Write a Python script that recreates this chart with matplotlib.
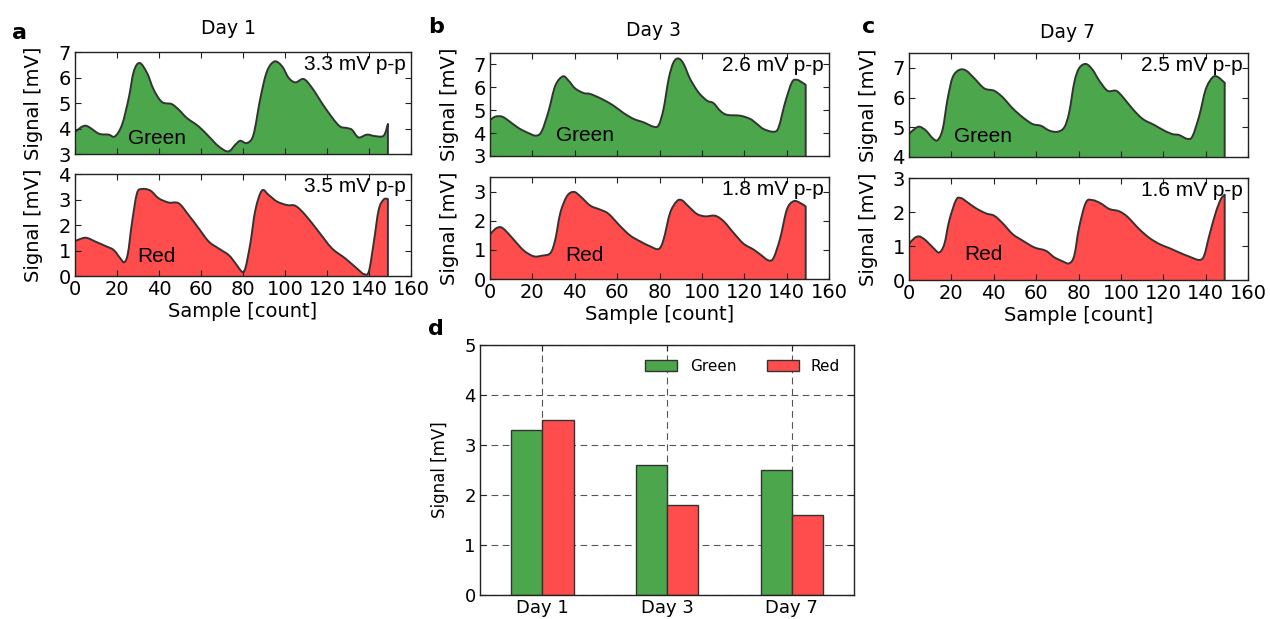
import matplotlib
matplotlib.use("Agg")
import matplotlib.pyplot as plt
from matplotlib.path import Path
from matplotlib.patches import PathPatch
import numpy as np

# ---------------- data ----------------
# Day 1
d1_green_x = [0, 5, 11.3, 16, 19, 22.4, 25.6, 28, 30.8, 34.3, 37.5, 41.4, 46, 49.4, 53.3, 58.9, 63.7, 68.4, 73,
              76.4, 78.7, 81.9, 85, 88.3, 91.4, 95, 98.6, 101.8, 105, 108.9, 112.9, 119.2, 125.6, 129.5, 131.9,
              135, 139, 143, 147, 149]
d1_green_y = [3.86, 4.11, 3.80, 3.76, 3.69, 4.15, 5.20, 6.24, 6.57, 6.18, 5.52, 5.04, 4.96, 4.74, 4.41, 4.08, 3.69,
              3.30, 3.10, 3.37, 3.52, 3.43, 3.76, 5.20, 6.24, 6.63, 6.44, 5.98, 5.81, 5.94, 5.59, 4.80, 4.12, 4.02,
              3.95, 3.65, 3.76, 3.70, 3.72, 4.18]
d1_red_x = [0, 5, 9.7, 14.4, 18.4, 21.6, 23.5, 25.2, 27.1, 29.5, 31.9, 35.9, 39.8, 44.6, 49.4, 54.1, 58.9, 63.7,
            68.4, 73.2, 76.4, 79.5, 81.1, 83.5, 85.9, 89, 92.2, 96.2, 101, 105, 109.7, 116, 122.4, 128.7, 135,
            137.5, 139.9, 142.2, 144.6, 147, 149]
d1_red_y = [1.37, 1.50, 1.35, 1.18, 1.02, 0.69, 0.54, 0.89, 2.07, 3.24, 3.41, 3.35, 3.05, 2.88, 2.85, 2.39, 1.87,
            1.35, 1.08, 0.82, 0.50, 0.17, 0.30, 1.28, 2.59, 3.35, 3.18, 2.92, 2.78, 2.75, 2.39, 1.74, 1.08, 0.69,
            0.24, 0.08, 0.17, 1.28, 2.59, 3.00, 3.02]
# Day 3
d3_green_x = [0, 2.5, 5.7, 8.8, 13.5, 18.2, 21.9, 24.5, 27.7, 30.8, 34.4, 37.1, 40.2, 44.2, 47.3, 52.8, 58.3, 63,
              67.8, 72.5, 77.2, 79.6, 81.9, 84.3, 86.6, 89, 91.4, 94.5, 98.4, 102.4, 105.5, 108.6, 111.8, 118.1,
              122.8, 126, 129.1, 133.8, 136.2, 139.3, 142.5, 144.8, 147.2, 149]
d3_green_y = [4.57, 4.72, 4.72, 4.54, 4.22, 4.00, 3.89, 4.10, 4.98, 6.07, 6.48, 6.29, 5.95, 5.75, 5.71, 5.49, 5.20,
              4.88, 4.62, 4.47, 4.28, 4.35, 5.05, 6.36, 7.09, 7.26, 7.02, 6.36, 5.78, 5.42, 5.31, 4.98, 4.80, 4.76,
              4.62, 4.40, 4.18, 4.06, 4.25, 5.34, 6.22, 6.33, 6.22, 6.11]
d3_red_x = [0, 2.5, 4.9, 7.2, 11.2, 15.9, 20.6, 24.5, 28.5, 30.8, 33.2, 36.3, 39.5, 42.6, 47.3, 52, 55.9, 61.5,
            66.2, 70.9, 75.6, 79.6, 81.9, 85, 88.2, 90.6, 93.7, 97.7, 101.6, 106.3, 110.3, 115, 119.7, 124.4,
            128.3, 131.4, 133.8, 137, 140.1, 143.3, 146.4, 149]
d3_red_y = [1.52, 1.72, 1.78, 1.67, 1.35, 0.98, 0.78, 0.80, 0.89, 1.35, 2.27, 2.84, 2.99, 2.84, 2.52, 2.38, 2.24,
            1.81, 1.49, 1.29, 1.12, 1.03, 1.35, 2.27, 2.67, 2.70, 2.49, 2.23, 2.15, 2.17, 1.98, 1.58, 1.21, 1.01,
            0.80, 0.64, 0.72, 1.41, 2.38, 2.67, 2.61, 2.49]
# Day 7
d7_green_x = [0, 2.5, 4.9, 8, 11.2, 13.5, 15.9, 18.2, 20.6, 23.7, 26.9, 30.8, 35.5, 40.2, 44.2, 48.9, 53.6, 58.3,
              62.3, 66.2, 70.1, 73.3, 75.6, 78, 80.3, 83.5, 86.6, 89.8, 93.7, 97.7, 100.8, 105.5, 110.3, 115.7,
              120.4, 124.4, 127.5, 131.4, 133.8, 137, 140.1, 143.3, 145.6, 148.8, 149]
d7_green_y = [4.77, 4.94, 5.02, 4.89, 4.63, 4.57, 4.94, 5.95, 6.68, 6.93, 6.91, 6.65, 6.31, 6.23, 6.01, 5.64, 5.34,
              5.11, 5.05, 4.89, 4.85, 5.00, 5.50, 6.51, 6.99, 7.13, 6.94, 6.57, 6.23, 6.23, 6.03, 5.62, 5.28, 5.08,
              4.89, 4.77, 4.74, 4.61, 4.70, 5.39, 6.29, 6.68, 6.70, 6.51, 6.48]
d7_red_x = [0, 2.5, 4.9, 8, 12, 14.3, 16.7, 19, 22.2, 24.5, 27.7, 31.6, 36.3, 40.2, 44.2, 48.9, 53.6, 59.1, 64.6,
            68.5, 72.5, 75.6, 78, 80.3, 83.5, 86.6, 90.6, 94.5, 99.2, 103.1, 108.6, 113.4, 118.1, 122.8, 127.5,
            132.2, 137, 139.3, 141.7, 144.8, 147.2, 149]
d7_red_y = [1.06, 1.23, 1.28, 1.16, 0.91, 0.81, 1.06, 1.75, 2.35, 2.41, 2.28, 2.11, 1.96, 1.89, 1.67, 1.35, 1.16,
            0.96, 0.86, 0.67, 0.55, 0.49, 0.72, 1.55, 2.28, 2.35, 2.25, 2.09, 2.02, 1.86, 1.50, 1.24, 1.06, 0.94,
            0.81, 0.69, 0.59, 0.72, 1.30, 1.99, 2.38, 2.51]

days = ["Day 1", "Day 3", "Day 7"]
pp_green = [3.3, 2.6, 2.5]
pp_red = [3.5, 1.8, 1.6]
green_ylims = [(3, 7), (3, 7.5), (4, 7.5)]
red_ylims = [(0, 4), (0, 3.5), (0, 3)]
green_yticks = [[3, 4, 5, 6, 7], [3, 4, 5, 6, 7], [4, 5, 6, 7]]
red_yticks = [[0, 1, 2, 3, 4], [0, 1, 2, 3], [0, 1, 2, 3]]
xticks = [0, 20, 40, 60, 80, 100, 120, 140, 160]

# ---------------- style ----------------
GREEN = "#4ca64c"
RED = "#ff4c4c"
LINE = "#333333"
W, H = 1270, 619

plt.rcParams["font.family"] = ["DejaVu Sans"]
fig = plt.figure(figsize=(W / 100, H / 100), dpi=100)


def frac(left, top, right, bottom):
    return [left / W, 1 - bottom / H, (right - left) / W, (bottom - top) / H]


def style_ax(ax, size=14):
    ax.tick_params(direction="in", top=True, right=True, length=4, width=0.8,
                   labelsize=size, pad=3, colors="#222222", labelcolor="black")
    for s in ax.spines.values():
        s.set_color("#222222")
        s.set_linewidth(1.0)


def smooth_trace(ax, xs, ys, base, color):
    """Draw the trace as a smooth Bezier path (Catmull-Rom through the read points)."""
    pts = np.column_stack([xs, ys]).astype(float)
    n = len(pts)
    verts = [tuple(pts[0])]
    codes = [Path.MOVETO]
    for i in range(n - 1):
        p0 = pts[max(i - 1, 0)]
        p1 = pts[i]
        p2 = pts[i + 1]
        p3 = pts[min(i + 2, n - 1)]
        c1 = p1 + (p2 - p0) / 6.0
        c2 = p2 - (p3 - p1) / 6.0
        verts += [tuple(c1), tuple(c2), tuple(p2)]
        codes += [Path.CURVE4] * 3
    # filled area
    fverts = verts + [(pts[-1, 0], base), (pts[0, 0], base), verts[0]]
    fcodes = codes + [Path.LINETO, Path.LINETO, Path.CLOSEPOLY]
    ax.add_patch(PathPatch(Path(fverts, fcodes), facecolor=color, edgecolor="none",
                           transform=ax.transData, zorder=1))
    # outline (curve + vertical drop at the end)
    lverts = verts + [(pts[-1, 0], base)]
    lcodes = codes + [Path.LINETO]
    ax.add_patch(PathPatch(Path(lverts, lcodes), facecolor="none", edgecolor=LINE,
                           linewidth=1.4, joinstyle="round", transform=ax.transData, zorder=2))


green_x = [d1_green_x, d3_green_x, d7_green_x]
green_y = [d1_green_y, d3_green_y, d7_green_y]
red_x = [d1_red_x, d3_red_x, d7_red_x]
red_y = [d1_red_y, d3_red_y, d7_red_y]

top_boxes = [(75, 52, 411, 154), (490, 53, 829, 156), (909, 53, 1248, 157)]
bot_boxes = [(75, 174, 411, 276), (490, 177, 829, 279), (909, 178, 1248, 280)]
label_pos = [(12, 39, "a"), (428, 33, "b"), (862, 33, "c")]
title_pos = [(228.5, 34.5), (653, 36.5), (1067, 37.5)]
name_x = [39, 44.7, 35]
green_name_y = [3.6, 3.9, 4.7]
red_name_y = [0.76, 0.8, 0.76]
ylab_x = [-0.095, -0.091, -0.091]

for i in range(3):
    axg = fig.add_axes(frac(*top_boxes[i]))
    axr = fig.add_axes(frac(*bot_boxes[i]))
    for ax, xs, ys, col, ylim, yt, name, ny, pp in [
        (axg, green_x[i], green_y[i], GREEN, green_ylims[i], green_yticks[i], "Green", green_name_y[i], pp_green[i]),
        (axr, red_x[i], red_y[i], RED, red_ylims[i], red_yticks[i], "Red", red_name_y[i], pp_red[i]),
    ]:
        ax.set_xlim(0, 160)
        ax.set_ylim(*ylim)
        smooth_trace(ax, xs, ys, ylim[0], col)
        ax.set_xticks(xticks)
        ax.set_yticks(yt)
        style_ax(ax)
        ax.set_ylabel("Signal [mV]", fontsize=14)
        ax.yaxis.set_label_coords(ylab_x[i], 0.5)
        ax.text(0.985, 0.975, f"{pp} mV p-p", transform=ax.transAxes, ha="right", va="top",
                fontsize=15, family=["Liberation Sans", "DejaVu Sans"], zorder=5)
        ax.text(name_x[i], ny, name, ha="center", va="center", fontsize=15,
                family=["Liberation Sans", "DejaVu Sans"], zorder=5)
    axg.tick_params(labelbottom=False)
    axr.set_xlabel("Sample [count]", fontsize=14, labelpad=2)
    lx, ly, lt = label_pos[i]
    fig.text(lx / W, 1 - ly / H, lt, fontsize=16, fontweight="bold", ha="left", va="baseline")
    tx, ty = title_pos[i]
    fig.text(tx / W, 1 - ty / H, days[i], fontsize=13.5, ha="center", va="baseline")

# ---------------- bar chart ----------------
axd = fig.add_axes(frac(480, 345, 854, 595))
xpos = np.arange(len(days))
bw = 0.25
axd.bar(xpos - bw / 2, pp_green, bw, color=GREEN, edgecolor=LINE, linewidth=1.0, label="Green", zorder=2)
axd.bar(xpos + bw / 2, pp_red, bw, color=RED, edgecolor=LINE, linewidth=1.0, label="Red", zorder=2)
axd.set_xlim(-0.5, 2.5)
axd.set_ylim(0, 5)
axd.set_xticks(xpos)
axd.set_xticklabels(days)
axd.set_yticks([0, 1, 2, 3, 4, 5])
style_ax(axd, size=13)
axd.grid(True, color="#555555", linestyle=(0, (6, 4)), linewidth=0.8, zorder=0)
axd.set_axisbelow(True)
axd.set_ylabel("Signal [mV]", fontsize=12)
axd.yaxis.set_label_coords(-0.083, 0.5)
axd.legend(loc="upper right", ncol=2, frameon=False, fontsize=11, handlelength=2.1,
           handleheight=0.8, handletextpad=0.8, columnspacing=2.0)
fig.text(428 / W, 1 - 335 / H, "d", fontsize=16, fontweight="bold", ha="left", va="baseline")

fig.savefig("out.png", dpi=100)
